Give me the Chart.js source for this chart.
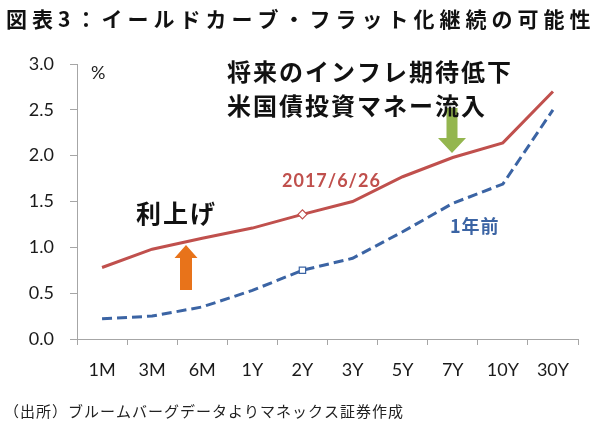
<!DOCTYPE html>
<html>
<head>
<meta charset="utf-8">
<script src="https://cdn.jsdelivr.net/npm/chart.js@4"></script>
<style>
  html, body { margin: 0; padding: 0; background: #fff; }
  #wrap { width: 600px; height: 430px; position: relative; }
</style>
</head>
<body>
<div id="wrap"><canvas id="yieldChart"></canvas></div>
<script>
// tenors and yields (%)
const tenors = ['1M', '3M', '6M', '1Y', '2Y', '3Y', '5Y', '7Y', '10Y', '30Y'];
const latest = [0.78, 0.98, 1.10, 1.21, 1.36, 1.50, 1.77, 1.98, 2.14, 2.70];
const yearAgo = [0.22, 0.25, 0.35, 0.53, 0.75, 0.88, 1.17, 1.48, 1.69, 2.50];
const yTicks = [0, 0.5, 1.0, 1.5, 2.0, 2.5, 3.0];

const JP = '"Noto Sans CJK JP", "Noto Sans", sans-serif';
const NUM = 'Lato, "Open Sans", sans-serif';

// only the 2Y point carries a marker
const markerAt = i => tenors[i] === '2Y' ? 4.5 : 0;

function arrow(ctx, cx, tailY, tipY, shaftW, headW, headLen, color) {
    const dir = tipY < tailY ? -1 : 1;
    const baseY = tipY - dir * headLen;
    ctx.fillStyle = color;
    ctx.beginPath();
    ctx.moveTo(cx - shaftW / 2, tailY);
    ctx.lineTo(cx - shaftW / 2, baseY);
    ctx.lineTo(cx - headW / 2, baseY);
    ctx.lineTo(cx, tipY);
    ctx.lineTo(cx + headW / 2, baseY);
    ctx.lineTo(cx + shaftW / 2, baseY);
    ctx.lineTo(cx + shaftW / 2, tailY);
    ctx.closePath();
    ctx.fill();
}

const annotations = {
    id: 'annotations',
    afterDraw(chart) {
        const ctx = chart.ctx;
        ctx.save();
        ctx.textBaseline = 'middle';
        ctx.textAlign = 'left';

        // title
        ctx.fillStyle = '#111';
        ctx.font = 'bold 21px ' + JP;
        ctx.letterSpacing = '5px';
        ctx.fillText('図表3：イールドカーブ・フラット化継続の可能性', 6, 19);

        // source
        ctx.font = '15px ' + JP;
        ctx.letterSpacing = '1px';
        ctx.fillStyle = '#222';
        ctx.fillText('（出所）ブルームバーグデータよりマネックス証券作成', 4, 411);

        ctx.letterSpacing = '0px';
        ctx.font = '18px ' + NUM;
        ctx.fillText('%', 91, 73);

        // arrows
        arrow(ctx, 186, 290, 245, 12, 23, 13, '#e8731a');
        arrow(ctx, 452, 108, 153, 11, 28, 15, '#94b64f');

        ctx.fillStyle = '#111';
        ctx.font = 'bold 24px ' + JP;
        ctx.letterSpacing = '2px';
        ctx.fillText('将来のインフレ期待低下', 227, 72);
        ctx.fillText('米国債投資マネー流入', 227, 106);
        ctx.font = 'bold 25px ' + JP;
        ctx.fillText('利上げ', 136, 213);

        ctx.letterSpacing = '1px';
        ctx.font = 'bold 18px ' + NUM;
        ctx.fillStyle = '#c0504d';
        ctx.fillText('2017/6/26', 282, 181);
        ctx.fillStyle = '#3b64a4';
        ctx.font = 'bold 18px ' + JP;
        ctx.fillText('1年前', 450, 226);
        ctx.restore();
    }
};

new Chart(document.getElementById('yieldChart'), {
    type: 'line',
    data: {
        labels: tenors,
        datasets: [
            {
                label: '2017/6/26',
                data: latest,
                borderColor: '#c0504d',
                borderWidth: 3,
                pointStyle: 'rectRot',
                pointRadius: ctx => markerAt(ctx.dataIndex),
                pointBackgroundColor: '#fff',
                pointBorderColor: '#c0504d',
                pointBorderWidth: 1.2,
                tension: 0,
                fill: false
            },
            {
                label: '1年前',
                data: yearAgo,
                borderColor: '#3b64a4',
                borderWidth: 3,
                borderDash: [10, 5],
                pointStyle: 'rect',
                pointRadius: ctx => markerAt(ctx.dataIndex),
                pointBackgroundColor: '#fff',
                pointBorderColor: '#3b64a4',
                pointBorderWidth: 1.2,
                tension: 0,
                fill: false
            }
        ]
    },
    options: {
        responsive: true,
        maintainAspectRatio: false,
        animation: false,
        events: [],
        layout: { padding: { top: 64, right: 22, bottom: 0, left: 0 } },
        plugins: {
            legend: { display: false },
            tooltip: { enabled: false }
        },
        scales: {
            x: {
                offset: true,
                grid: { offset: true, drawOnChartArea: false, color: '#a6a6a6', tickLength: 6 },
                border: { color: '#a6a6a6' },
                ticks: { color: '#1a1a1a', font: { family: NUM, size: 18 }, padding: 14 },
                afterFit: s => { s.height = 91; }
            },
            y: {
                min: 0,
                max: 3,
                afterBuildTicks: s => { s.ticks = yTicks.map(v => ({ value: v })); },
                grid: { drawOnChartArea: false, color: '#a6a6a6', tickLength: 7 },
                border: { color: '#a6a6a6' },
                ticks: {
                    color: '#1a1a1a',
                    font: { family: NUM, size: 18 },
                    padding: 16,
                    callback: v => Number(v).toFixed(1)
                },
                afterFit: s => { s.width = 77; }
            }
        }
    },
    plugins: [annotations]
});
</script>
</body>
</html>
